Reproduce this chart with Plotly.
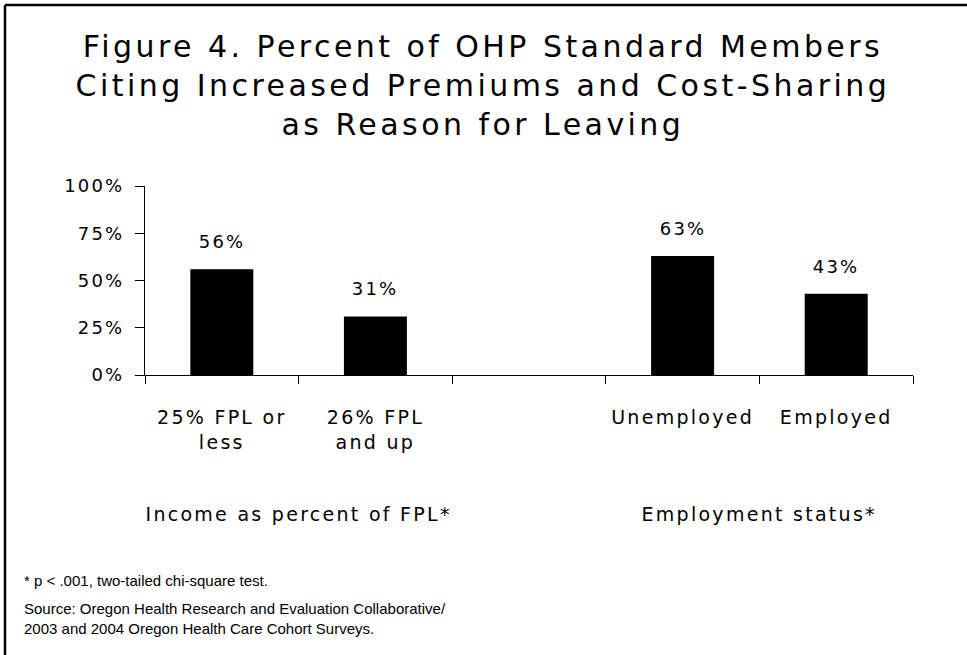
import plotly.graph_objects as go

categories = ["25% FPL or<br>less", "26% FPL<br>and up", " ", "Unemployed", "Employed"]
values = [56, 31, None, 63, 43]
value_labels = ["56%", "31%", "", "63%", "43%"]
y_ticks = [0, 25, 50, 75, 100]
y_tick_labels = ["0%", "25%", "50%", "75%", "100%"]
group_labels = ["Income as percent of FPL*", "Employment status*"]
group_centers = [0.5, 3.5]  # positions on the category axis (between categories)
title_lines = ["Figure 4. Percent of OHP Standard Members",
               "Citing Increased Premiums and Cost-Sharing",
               "as Reason for Leaving"]
notes = ["* p < .001, two-tailed chi-square test.",
         "Source: Oregon Health Research and Evaluation Collaborative/<br>2003 and 2004 Oregon Health Care Cohort Surveys."]

W, H = 967, 655
L, R, T, B = 145, 54, 186, 280
PW, PH = W - L - R, H - T - B

def px_x(p):
    return (p - L) / PW

def px_y(p):
    return (H - B - p) / PH

FONT = "DejaVu Sans"
NOTE_FONT = "Liberation Sans"

fig = go.Figure()
fig.add_trace(go.Bar(
    x=categories, y=values,
    marker=dict(color="black", line=dict(width=0)),
    width=0.41,
    hoverinfo="skip",
))

annotations = []
for c, v, t in zip(categories, values, value_labels):
    if v is None:
        continue
    annotations.append(dict(x=c, y=v, xref="x", yref="y", text=t, showarrow=False,
                            yanchor="bottom", yshift=15,
                            font=dict(family=FONT, size=18, color="black")))

# title
annotations.append(dict(x=px_x(483), y=px_y(85), xref="paper", yref="paper",
                        text="<br>".join(title_lines), showarrow=False,
                        xanchor="center", yanchor="middle", align="center",
                        font=dict(family=FONT, size=30, color="black")))

# group labels
for gx, gl in zip(group_centers, group_labels):
    annotations.append(dict(x=gx, y=px_y(514), xref="x", yref="paper", text=gl,
                            showarrow=False, xanchor="center", yanchor="middle",
                            font=dict(family=FONT, size=19, color="black")))

# notes
annotations.append(dict(x=px_x(22), y=px_y(580), xref="paper", yref="paper", text=notes[0],
                        showarrow=False, xanchor="left", yanchor="middle", align="left",
                        font=dict(family=NOTE_FONT, size=15, color="black")))
annotations.append(dict(x=px_x(22), y=px_y(618), xref="paper", yref="paper", text=notes[1],
                        showarrow=False, xanchor="left", yanchor="middle", align="left",
                        font=dict(family=NOTE_FONT, size=15, color="black")))

fig.update_layout(
    width=W, height=H,
    margin=dict(l=L, r=R, t=T, b=B),
    paper_bgcolor="white", plot_bgcolor="white",
    showlegend=False,
    annotations=annotations,
    shapes=[
        dict(type="line", xref="paper", yref="paper",
             x0=px_x(5), x1=px_x(W + 20), y0=px_y(5), y1=px_y(5),
             line=dict(color="black", width=2.5), layer="below"),
        dict(type="line", xref="paper", yref="paper",
             x0=px_x(5), x1=px_x(5), y0=px_y(5), y1=px_y(H + 20),
             line=dict(color="black", width=2.5), layer="below"),
    ],
)

fig.update_xaxes(
    type="category", categoryorder="array", categoryarray=categories,
    range=[-0.5, len(categories) - 0.5],
    showline=True, linecolor="black", linewidth=1.2,
    ticks="outside", tickson="boundaries", ticklen=8, tickcolor="black", tickwidth=1.2,
    ticklabelstandoff=25,
    tickfont=dict(family=FONT, size=19, color="black"),
    showgrid=False, zeroline=False, fixedrange=True,
)
fig.update_yaxes(
    range=[0, 100], tickvals=y_ticks, ticktext=y_tick_labels,
    showline=True, linecolor="black", linewidth=1.2,
    ticks="outside", ticklen=9, tickcolor="black", tickwidth=1.2,
    ticklabelstandoff=7,
    tickfont=dict(family=FONT, size=18, color="black"),
    showgrid=False, zeroline=False, fixedrange=True,
)

post = """
document.body.style.margin = '0';
document.body.style.overflow = 'hidden';
var gd = document.getElementById('{plot_id}');
gd.querySelectorAll('text').forEach(function (t) {
  var f = t.style.fontFamily || '';
  if (f.indexOf('DejaVu') >= 0) {
    var fs = parseFloat(t.style.fontSize) || 0;
    t.style.letterSpacing = (fs >= 25 ? '0.115em' : '0.12em');
  }
});
"""

fig.write_html("out.html", post_script=post, config={"displayModeBar": False})
